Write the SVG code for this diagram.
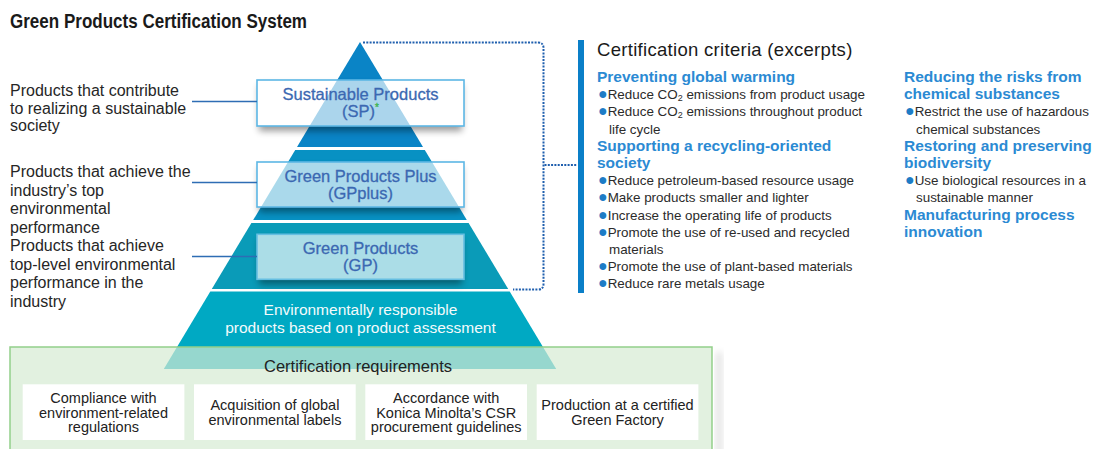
<svg xmlns="http://www.w3.org/2000/svg" width="1094" height="449" viewBox="0 0 1094 449">
<defs>
<style>
text{font-family:'Liberation Sans',Arial,Helvetica,sans-serif}
.title{font-size:20px;font-weight:bold;fill:#1a1a1a}
.lbl{font-size:16px;fill:#262626}
.box{fill:#fff;fill-opacity:.66;stroke:#5db7e5;stroke-width:1.6}
.gpbox{fill:#fff;fill-opacity:.66;stroke:#66bfe2;stroke-width:1.6}
.btxt{font-size:16.5px;fill:#3b68b2;stroke:#3b68b2;stroke-width:.3;text-anchor:middle}
.shadow{fill:#000;opacity:.4}
.lead{stroke:#2e6db4;stroke-width:1.3;fill:none}
.dot{fill:none;stroke:#1f5fae;stroke-width:2;stroke-dasharray:2 1.3}
.crit{font-size:18.5px;fill:#1a1a1a;letter-spacing:.3px}
.h{font-size:15.5px;font-weight:bold;fill:#2b8ad3}
.b{font-size:13.4px;fill:#2b2b2b}
.bu{fill:#1d7cc6;font-size:16px}
.base{font-size:15.5px;fill:#f4fbfc;text-anchor:middle}
.req{fill:#fff}
.rt{font-size:14.5px;fill:#222;text-anchor:middle}
.rh{font-size:16.5px;fill:#222;text-anchor:middle}
</style>
<filter id="blur" x="-20%" y="-50%" width="140%" height="200%"><feGaussianBlur stdDeviation="3.5"/></filter>
<clipPath id="cSP"><path clip-rule="evenodd" d="M0,0H1094V449H0Z M257,80H464V126H257Z"/></clipPath>
<clipPath id="cGPP"><path clip-rule="evenodd" d="M0,0H1094V449H0Z M257,162H464V207H257Z"/></clipPath>
<clipPath id="cGP"><path clip-rule="evenodd" d="M0,0H1094V449H0Z M257,234.3H464V279.3H257Z"/></clipPath>
</defs>
<rect width="1094" height="449" fill="#fff"/>
<text class="title" x="10" y="28" textLength="297" lengthAdjust="spacingAndGlyphs">Green Products Certification System</text>

<g id="pyramid">
<polygon points="360,42 423,147 297,147" fill="#0a84c6"/>
<polygon points="295.2,150 424.8,150 466.8,220 253.2,220" fill="#0891c3"/>
<polygon points="251.4,223 468.6,223 508.2,289 211.8,289" fill="#0a9bb8"/>
</g>

<g id="base-tier">
<polygon points="210.3,291.5 509.7,291.5 556.2,369 163.8,369" fill="#00a9c3"/>
<text class="base" x="360.5" y="315">Environmentally responsible</text>
<text class="base" x="360.5" y="333.3">products based on product assessment</text>
</g>

<g id="node-sp">
<rect class="shadow" x="259" y="85" width="203" height="46" filter="url(#blur)" clip-path="url(#cSP)"/>
<rect class="box" x="257" y="80" width="207" height="46"/>
<text class="btxt" x="360.5" y="99.5">Sustainable Products</text>
<text class="btxt" x="360.5" y="116.5">(SP)<tspan font-size="10" dy="-6" fill="#3cb44b" stroke="#3cb44b">*</tspan></text>
</g>

<g id="node-gpplus">
<rect class="shadow" x="259" y="167" width="203" height="45" filter="url(#blur)" clip-path="url(#cGPP)"/>
<rect class="box" x="257" y="162" width="207" height="45"/>
<text class="btxt" x="360.5" y="181.5">Green Products Plus</text>
<text class="btxt" x="360.5" y="198.5">(GPplus)</text>
</g>

<g id="node-gp">
<rect class="shadow" x="259" y="239.3" width="203" height="45" filter="url(#blur)" clip-path="url(#cGP)"/>
<rect class="gpbox" x="257" y="234.3" width="207" height="45"/>
<text class="btxt" x="360.5" y="253.5">Green Products</text>
<text class="btxt" x="360.5" y="270.5">(GP)</text>
</g>

<g id="label-sp">
<text class="lbl" x="10" y="96">Products that contribute</text>
<text class="lbl" x="10" y="113.5">to realizing a sustainable</text>
<text class="lbl" x="10" y="131">society</text>
</g>
<g id="label-gpplus">
<text class="lbl" x="10" y="177">Products that achieve the</text>
<text class="lbl" x="10" y="195.5">industry’s top</text>
<text class="lbl" x="10" y="214">environmental</text>
<text class="lbl" x="10" y="232.5">performance</text>
</g>
<g id="label-gp">
<text class="lbl" x="10" y="251">Products that achieve</text>
<text class="lbl" x="10" y="269.5">top-level environmental</text>
<text class="lbl" x="10" y="288">performance in the</text>
<text class="lbl" x="10" y="306.5">industry</text>
</g>

<g id="connectors">
<line class="lead" x1="192" y1="101.5" x2="257" y2="101.5"/>
<line class="lead" x1="192" y1="182.5" x2="257" y2="182.5"/>
<line class="lead" x1="192" y1="256.5" x2="257" y2="256.5"/>
<path class="dot" d="M363,42.5 H538 Q543.5,42.5 543.5,48 V284 Q543.5,289.5 538,289.5 H513"/>
<path class="dot" d="M544.5,165 H577"/>
</g>

<g id="criteria">
<rect x="578" y="40" width="6" height="253" fill="#0a7fc8"/>
<text class="crit" x="597" y="56">Certification criteria (excerpts)</text>
<text class="h" x="597" y="82">Preventing global warming</text>
<text class="b" x="598" y="99.2"><tspan class="bu">●</tspan>Reduce CO<tspan font-size="9" dy="2">2</tspan><tspan dy="-2"> emissions from product usage</tspan></text>
<text class="b" x="598" y="116.4"><tspan class="bu">●</tspan>Reduce CO<tspan font-size="9" dy="2">2</tspan><tspan dy="-2"> emissions throughout product</tspan></text>
<text class="b" x="609" y="133.6">life cycle</text>
<text class="h" x="597" y="150.8">Supporting a recycling-oriented</text>
<text class="h" x="597" y="168">society</text>
<text class="b" x="598" y="185.2"><tspan class="bu">●</tspan>Reduce petroleum-based resource usage</text>
<text class="b" x="598" y="202.4"><tspan class="bu">●</tspan>Make products smaller and lighter</text>
<text class="b" x="598" y="219.6"><tspan class="bu">●</tspan>Increase the operating life of products</text>
<text class="b" x="598" y="236.8"><tspan class="bu">●</tspan>Promote the use of re-used and recycled</text>
<text class="b" x="609" y="254">materials</text>
<text class="b" x="598" y="271.2"><tspan class="bu">●</tspan>Promote the use of plant-based materials</text>
<text class="b" x="598" y="288.4"><tspan class="bu">●</tspan>Reduce rare metals usage</text>
<text class="h" x="904" y="82">Reducing the risks from</text>
<text class="h" x="904" y="99.2">chemical substances</text>
<text class="b" x="905" y="116.4"><tspan class="bu">●</tspan>Restrict the use of hazardous</text>
<text class="b" x="916" y="133.6">chemical substances</text>
<text class="h" x="904" y="150.8">Restoring and preserving</text>
<text class="h" x="904" y="168">biodiversity</text>
<text class="b" x="905" y="185.2"><tspan class="bu">●</tspan>Use biological resources in a</text>
<text class="b" x="916" y="202.4">sustainable manner</text>
<text class="h" x="904" y="219.6">Manufacturing process</text>
<text class="h" x="904" y="236.8">innovation</text>
</g>

<g id="requirements">
<rect x="716" y="352" width="6" height="110" fill="#000" opacity=".12" filter="url(#blur)"/>
<rect x="10" y="347" width="702" height="115" fill="#d5ebd3" fill-opacity=".7" stroke="#93cf8a" stroke-width="1.5"/>
<text class="rh" x="358" y="371.7">Certification requirements</text>
<g id="req-1">
<rect class="req" x="22.7" y="384.3" width="161.7" height="55.7"/>
<text class="rt" x="103.5" y="403">Compliance with</text>
<text class="rt" x="103.5" y="417.5">environment-related</text>
<text class="rt" x="103.5" y="432">regulations</text>
</g>
<g id="req-2">
<rect class="req" x="194" y="384.3" width="161.7" height="55.7"/>
<text class="rt" x="274.9" y="410">Acquisition of global</text>
<text class="rt" x="274.9" y="424.5">environmental labels</text>
</g>
<g id="req-3">
<rect class="req" x="365.3" y="384.3" width="161.7" height="55.7"/>
<text class="rt" x="446.2" y="403">Accordance with</text>
<text class="rt" x="446.2" y="417.5">Konica Minolta’s CSR</text>
<text class="rt" x="446.2" y="432">procurement guidelines</text>
</g>
<g id="req-4">
<rect class="req" x="536.7" y="384.3" width="161.7" height="55.7"/>
<text class="rt" x="617.5" y="410">Production at a certified</text>
<text class="rt" x="617.5" y="424.5">Green Factory</text>
</g>
</g>
</svg>
